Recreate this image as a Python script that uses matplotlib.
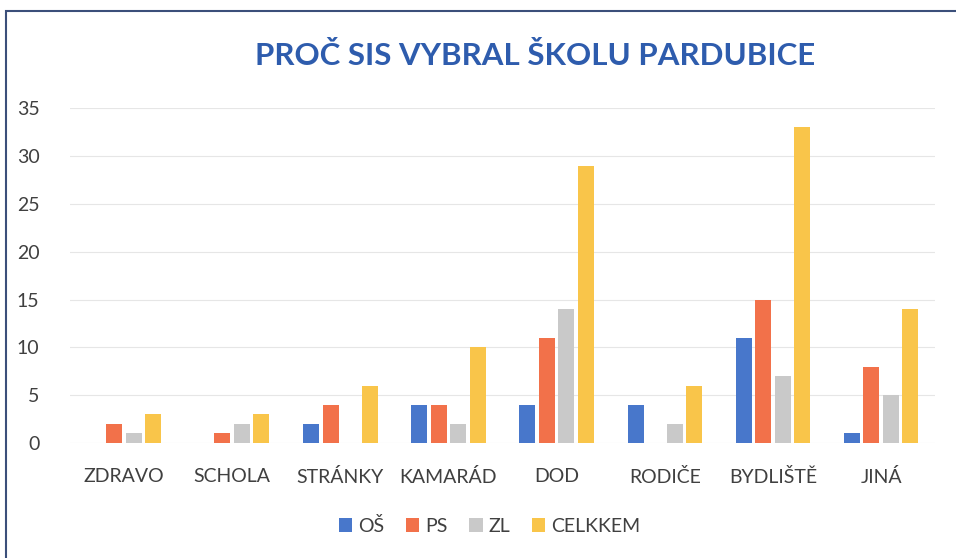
import numpy as np
import matplotlib
matplotlib.use('Agg')
import matplotlib.pyplot as plt
from matplotlib.patches import Rectangle

plt.rcParams['font.family'] = ['Lato', 'DejaVu Sans']

categories = ['ZDRAVO', 'SCHOLA', 'STRÁNKY', 'KAMARÁD', 'DOD', 'RODIČE', 'BYDLIŠTĚ', 'JINÁ']
series_names = ['OŠ', 'PS', 'ZL', 'CELKKEM']
os_vals = [0, 0, 2, 4, 4, 4, 11, 1]
ps_vals = [2, 1, 4, 4, 11, 0, 15, 8]
zl_vals = [1, 2, 0, 2, 14, 2, 7, 5]
celk_vals = [3, 3, 6, 10, 29, 6, 33, 14]
y_ticks = [0, 5, 10, 15, 20, 25, 30, 35]

colors = ['#4877CB', '#F2714A', '#C9C9C9', '#F9C54A']

fig = plt.figure(figsize=(9.56, 5.58), dpi=100)
# chart border (scanned frame)
fig.patches.append(Rectangle((0.006, -0.1), 1.1, 1.08, transform=fig.transFigure,
                             fill=False, edgecolor='#3B4F7A', linewidth=1.5))

ax = fig.add_axes([0.0732, 0.206, 0.905, 0.6])
x = np.arange(len(categories))
width = 0.148
stride = 0.18
for i, (vals, name) in enumerate(zip([os_vals, ps_vals, zl_vals, celk_vals], series_names)):
    ax.bar(x + (i - 1.5) * stride, vals, width, color=colors[i], label=name, zorder=3)

ax.set_xlim(-0.5, len(categories) - 0.5)
ax.set_ylim(0, 35)
ax.set_yticks(y_ticks)
ax.set_xticks(x)
ax.set_xticklabels(categories)
ax.tick_params(axis='both', length=0, colors='#404040', labelsize=14)
ax.tick_params(axis='x', pad=18)
ax.tick_params(axis='y', pad=22)
ax.grid(axis='y', color='#E6E6E6', linewidth=0.8, zorder=0)
for s in ax.spines.values():
    s.set_visible(False)

fig.text(0.56, 0.9, 'PROČ SIS VYBRAL ŠKOLU PARDUBICE', ha='center', va='center',
         fontsize=22.5, fontweight='bold', color='#2E5CAD')

fig.legend(loc='center', bbox_to_anchor=(0.512, 0.058), ncol=4, frameon=False,
           fontsize=14, handlelength=0.7, handleheight=0.7, handletextpad=0.3,
           columnspacing=1.1, labelcolor='#404040')

fig.savefig('out.png', dpi=100)
